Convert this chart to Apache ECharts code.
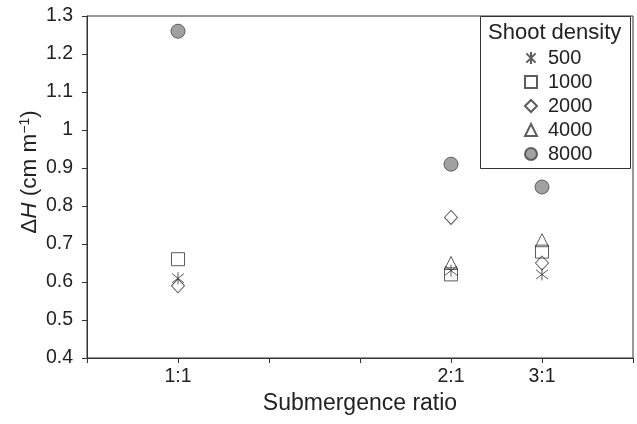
<!DOCTYPE html>
<html>
<head>
    <meta charset="utf-8"/>
    <style>
        html, body { margin: 0; padding: 0; background: #ffffff; }
        #main { width: 637px; height: 424px; }
    </style>
</head>
<body>
<div id="main"></div>
<script src="https://cdn.jsdelivr.net/npm/echarts@6/dist/echarts.min.js"></script>
<script type="text/javascript">
    // 数据
    var categories = ['1:1', '2:1', '3:1'];
    var xPositions = [1, 4, 5];
    var seriesNames = ['500', '1000', '2000', '4000', '8000'];
    var d500 = [0.61, 0.63, 0.62];
    var d1000 = [0.66, 0.62, 0.68];
    var d2000 = [0.59, 0.77, 0.65];
    var d4000 = [null, 0.65, 0.71];
    var d8000 = [1.26, 0.91, 0.85];
    var yTicks = [0.4, 0.5, 0.6, 0.7, 0.8, 0.9, 1, 1.1, 1.2, 1.3];

    var font = 'Liberation Sans, Arial, sans-serif';
    var ink = '#333333';
    var txt = '#222222';
    var star = 'path://M0,0L10,10M10,0L0,10M5,-1.5L5,11.5';

    function pts(vals) {
        var out = [];
        for (var i = 0; i < vals.length; i++) {
            if (vals[i] !== null) out.push([xPositions[i], vals[i]]);
        }
        return out;
    }

    function openSeries(name, vals, symbol, size) {
        return {
            name: name,
            type: 'scatter',
            symbol: symbol,
            symbolSize: size,
            itemStyle: { color: 'rgba(0,0,0,0)', borderColor: ink, borderWidth: 1 },
            data: pts(vals)
        };
    }

    var myChart = echarts.init(document.getElementById('main'));
    var option = {
        animation: false,
        grid: {
            left: 87, right: 4, top: 16, bottom: 66,
            show: true, borderColor: ink, borderWidth: 1
        },
        graphic: [{
            // 图例外框
            type: 'rect',
            shape: { x: 480.5, y: 16.5, width: 150, height: 152 },
            style: { fill: '#fff', stroke: ink, lineWidth: 1 },
            z: 10
        }, {
            type: 'text',
            x: 488, y: 33,
            style: { text: 'Shoot density', font: '22px ' + font, fill: txt, verticalAlign: 'middle' },
            z: 11
        }, {
            // y轴标题
            type: 'text',
            x: 30, y: 172,
            rotation: Math.PI / 2,
            style: {
                text: '{a|Δ}{i|H}{a| (cm m}{s|−1}{a|)}',
                align: 'center',
                verticalAlign: 'middle',
                rich: {
                    a: { fontSize: 22.5, fontFamily: font, fill: txt },
                    i: { fontSize: 22.5, fontFamily: font, fill: txt, fontStyle: 'italic' },
                    s: { fontSize: 14, fontFamily: font, fill: txt, verticalAlign: 'top', padding: [0, 0, 9, 0] }
                }
            }
        }],
        legend: {
            orient: 'vertical',
            left: 524, top: 48,
            itemWidth: 12, itemHeight: 12, itemGap: 4,
            padding: 0,
            z: 12,
            textStyle: { fontSize: 20, fontFamily: font, color: txt, padding: [0, 0, 0, 6], lineHeight: 20 },
            data: seriesNames
        },
        xAxis: {
            type: 'value',
            min: 0, max: 6, interval: 1,
            name: 'Submergence ratio',
            nameLocation: 'middle',
            nameGap: 28,
            nameTextStyle: { fontSize: 23, fontFamily: font, color: txt },
            axisLine: { lineStyle: { color: ink } },
            axisTick: { show: true, length: 5, lineStyle: { color: ink } },
            splitLine: { show: false },
            axisLabel: {
                fontSize: 19.5, fontFamily: font, color: txt, margin: 9,
                formatter: function (v) {
                    var k = xPositions.indexOf(v);
                    return k >= 0 ? categories[k] : '';
                }
            }
        },
        yAxis: {
            type: 'value',
            min: yTicks[0], max: yTicks[yTicks.length - 1], interval: 0.1,
            axisLine: { show: true, lineStyle: { color: ink } },
            axisTick: { show: true, length: 5, lineStyle: { color: ink } },
            splitLine: { show: false },
            axisLabel: {
                fontSize: 19.5, fontFamily: font, color: txt, margin: 14,
                formatter: function (v) { return String(Math.round(v * 10) / 10); }
            }
        },
        series: [
            openSeries(seriesNames[0], d500, star, 12),
            openSeries(seriesNames[1], d1000, 'rect', 13),
            openSeries(seriesNames[2], d2000, 'diamond', [13, 14]),
            openSeries(seriesNames[3], d4000, 'triangle', 13),
            {
                name: seriesNames[4],
                type: 'scatter',
                symbol: 'circle',
                symbolSize: 14,
                itemStyle: { color: '#8a8a8a', borderColor: '#444', borderWidth: 1 },
                data: pts(d8000)
            }
        ]
    };
    myChart.setOption(option);
</script>
</body>
</html>
